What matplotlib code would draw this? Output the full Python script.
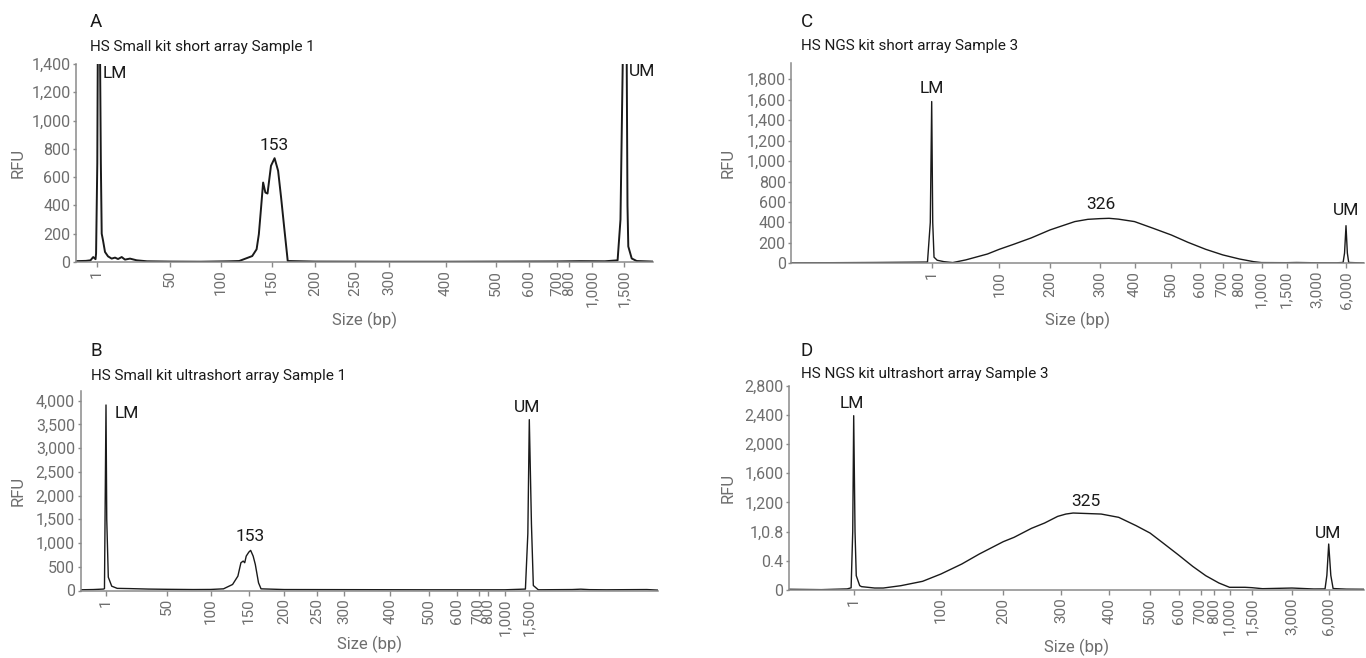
import numpy as np
import matplotlib
matplotlib.use('Agg')
import matplotlib.pyplot as plt

plt.rcParams['font.family'] = ['Roboto', 'DejaVu Sans']

W, H = 1366, 658
GREY = '#6e6e6e'
INK = '#1a1a1a'

# size ladder ticks (bp)
ticks_small = [1, 50, 100, 150, 200, 250, 300, 400, 500, 600, 700, 800, 1000, 1500]
ticks_ngs = [1, 100, 200, 300, 400, 500, 600, 700, 800, 1000, 1500, 3000, 6000]

# A: HS Small kit, short array (markers run off scale)
size_a = [0, 0.47, 0.69, 0.82, 0.93, 0.956, 1.2, 1.5, 2.3, 3.1, 3.6, 4.18, 5.06, 6.41,
          8.44, 10.9, 13.2, 15.2, 17.7, 19.9, 23.3, 27.8, 34.8, 50, 80, 108, 117.8,
          130.6, 134.9, 137.1, 139.3, 141.3, 143.5, 145.6, 149, 153, 157.1, 160.6,
          164.2, 168.3, 200, 300, 400, 700, 900, 1200, 1400, 1445, 1480, 1510, 1547,
          1560, 1574, 1633, 1719, 2000]
rfu_a = [6, 8, 12, 35, 20, 60, 700, 1400, 4000, 1400, 700, 200, 153, 71,
         40, 24, 31, 21, 35, 17, 24, 12, 5, 3, 2, 5, 7,
         42, 90, 196, 385, 562, 491, 484, 680, 734, 645, 455,
         243, 7, 3, 2, 2, 4, 6, 5, 12, 300, 1400, 4000, 1400,
         400, 110, 25, 7, 3]

# B: HS Small kit, ultrashort array
size_b = [0, 0.5, 0.9, 0.94, 1.0, 1.6, 2.85, 5.6, 10, 20, 35, 50, 80, 100, 117, 129,
          136, 140, 143, 145, 147, 150.5, 153, 156.5, 159.5, 164, 167.5, 200, 300,
          500, 1000, 1420, 1470, 1500, 1525, 1547, 1605, 2000, 2100, 2200, 2400,
          2870, 3000]
rfu_b = [15, 20, 30, 40, 3909, 1500, 281, 91, 45, 40, 30, 25, 20, 22, 35, 127,
         303, 585, 620, 585, 725, 810, 845, 725, 550, 162, 35, 20, 18,
         15, 15, 30, 1200, 3600, 1400, 105, 15, 20, 28, 18, 15,
         20, 8]

# C: HS NGS kit, short array
size_c = [0, 0.3, 0.6, 0.97, 0.99, 1, 2.5, 4.4, 9, 18.9, 31.8, 50.8, 82.7, 100,
          128.5, 163, 200, 223.5, 249.6, 275.5, 300, 326, 353, 400, 451, 500, 559,
          626, 700, 800, 928, 1000, 1500, 2000, 3000, 5000, 5700, 5850, 6000, 6150,
          6300, 8000]
rfu_c = [5, 6, 8, 12, 400, 1582, 400, 60, 30, 16, 7, 33, 91, 137,
         186, 248, 326, 365, 408, 430, 437, 440, 432, 408, 342, 277, 205,
         137, 82, 42, 16, 7, 6, 8, 5, 5, 8, 100, 368, 100,
         8, 3]

# D: HS NGS kit, ultrashort array
size_d = [0, 0.5, 0.9, 0.96, 0.985, 1, 2.5, 3.9, 7.8, 9.9, 24.8, 34.6, 54.5, 79.2,
          100, 133.5, 161.6, 200, 218.8, 248.8, 271.5, 294.1, 310, 325, 383.5,
          423.4, 465.9, 500, 542.8, 600, 664.5, 739, 863, 1000, 1348, 1500, 1899,
          3000, 4784, 5700, 5850, 6000, 6120, 6250, 7000, 8000]
rfu_d = [10, 5, 15, 30, 800, 2389, 800, 196, 60, 46, 27, 27, 59, 119,
         219, 356, 493, 662, 722, 845, 918, 1009, 1041, 1055, 1041,
         996, 882, 781, 653, 480, 324, 196, 96, 37, 37, 32, 18,
         27, 14, 15, 200, 630, 200, 20, 12, 10]

yticks_d = [0, 400, 800, 1200, 1600, 2000, 2400, 2800]
yticklabels_d = ['0', '0.4', '1,0.8', '1,200', '1,600', '2,000', '2,400', '2,800']

panels = [
    dict(letter='A', title='HS Small kit short array Sample 1', x=size_a, y=rfu_a,
         ticks=ticks_small, knots=[0] + ticks_small + [2000],
         px=[76, 97, 169.5, 221, 272, 315, 355, 389, 445.5, 496, 529, 557, 569, 592, 624, 653],
         top=64, bottom=262, ymax=1400, yticks=list(range(0, 1401, 200)), yticklabels=None,
         lw=1.4, title_x=90, title_y=(22, 47), ylab_x=18, xlab_y=320,
         notes=[('LM', 3.1, 1400, 'left', 3, -9), ('UM', 1547, 1400, 'left', 2, -7),
                ('153', 153, 734, 'center', 0, 13)]),
    dict(letter='B', title='HS Small kit ultrashort array Sample 1', x=size_b, y=rfu_b,
         ticks=ticks_small, knots=[0] + ticks_small + [3000],
         px=[80.5, 106, 167, 210.6, 248.5, 284.3, 316.9, 344.3, 390.1, 429.3, 456.7, 478.5, 488.1, 505, 529.3, 658],
         top=390.7, bottom=590.5, ymax=4210, yticks=list(range(0, 4001, 500)), yticklabels=None,
         lw=1.0, title_x=91, title_y=(351, 376), ylab_x=18, xlab_y=644,
         notes=[('LM', 1, 3909, 'left', 9, -9), ('UM', 1500, 3600, 'center', -2, 12),
                ('153', 153, 845, 'center', 0, 14)]),
    dict(letter='C', title='HS NGS kit short array Sample 3', x=size_c, y=rfu_c,
         ticks=ticks_ngs, knots=[0] + ticks_ngs + [8000],
         px=[791.3, 931.7, 999.3, 1049.9, 1100.1, 1134.5, 1171.3, 1199.6, 1222.8, 1239.5, 1261.5, 1286.5, 1317, 1346, 1364],
         top=62.7, bottom=263.3, ymax=1962, yticks=list(range(0, 1801, 200)), yticklabels=None,
         lw=1.0, title_x=801, title_y=(22, 46), ylab_x=728, xlab_y=320,
         notes=[('LM', 1, 1582, 'center', 0, 13), ('326', 326, 440, 'center', -8, 14),
                ('UM', 6000, 368, 'center', 0, 15)]),
    dict(letter='D', title='HS NGS kit ultrashort array Sample 3', x=size_d, y=rfu_d,
         ticks=ticks_ngs, knots=[0] + ticks_ngs + [8000],
         px=[789, 853.7, 940.9, 1003.2, 1061.1, 1109.1, 1150.0, 1178.5, 1200.5, 1214, 1229.5, 1251.8, 1292, 1328.7, 1364],
         top=385.7, bottom=590, ymax=2800, yticks=yticks_d, yticklabels=yticklabels_d,
         lw=1.0, title_x=801, title_y=(351, 374), ylab_x=728, xlab_y=647,
         notes=[('LM', 1, 2389, 'center', -1.5, 12), ('325', 325, 1055, 'center', 13, 12),
                ('UM', 6000, 630, 'center', -1, 11)]),
]

fig = plt.figure(figsize=(W / 100, H / 100), dpi=100)


def fmt(v):
    return f'{v:,}'


for p in panels:
    px = np.array(p['px'], float)
    left, right = px[0], px[-1]
    ax = fig.add_axes([left / W, 1 - p['bottom'] / H, (right - left) / W, (p['bottom'] - p['top']) / H])

    # piecewise size axis: each ladder tick sits at its own position
    frac = (px - left) / (right - left)
    kb = np.array(p['knots'], float)
    ax.set_xscale('function', functions=(lambda v, kb=kb, fr=frac: np.interp(v, kb, fr),
                                         lambda v, kb=kb, fr=frac: np.interp(v, fr, kb)))
    ax.set_xlim(kb[0], kb[-1])
    ax.set_ylim(0, p['ymax'])

    ax.plot(p['x'], p['y'], color=INK, lw=p['lw'], solid_joinstyle='round')

    ax.set_xticks(p['ticks'])
    ax.set_xticklabels([fmt(t) for t in p['ticks']], rotation=90)
    ax.set_yticks(p['yticks'])
    ax.set_yticklabels(p['yticklabels'] or [fmt(t) for t in p['yticks']])
    ax.minorticks_off()

    for side in ('top', 'right'):
        ax.spines[side].set_visible(False)
    for side in ('left', 'bottom'):
        ax.spines[side].set_color('#8a8a8a')
        ax.spines[side].set_linewidth(1.1)
    ax.tick_params(axis='x', length=3.5, width=1, color='#8a8a8a', labelcolor=GREY,
                   labelsize=11, pad=2)
    ax.tick_params(axis='y', length=2.5, width=1, color='#8a8a8a', labelcolor=GREY,
                   labelsize=11.5, pad=1.5)

    # axis titles
    fig.text(p['ylab_x'] / W, 1 - (p['top'] + p['bottom']) / 2 / H, 'RFU', rotation=90,
             ha='center', va='center', color=GREY, fontsize=12)
    fig.text((left + right) / 2 / W, 1 - p['xlab_y'] / H, 'Size (bp)',
             ha='center', va='center', color=GREY, fontsize=12)

    # panel letter and sample title
    fig.text(p['title_x'] / W, 1 - p['title_y'][0] / H, p['letter'],
             ha='left', va='center', color=INK, fontsize=13.5)
    fig.text(p['title_x'] / W, 1 - p['title_y'][1] / H, p['title'],
             ha='left', va='center', color=INK, fontsize=11)

    # peak callouts
    for text, xv, yv, ha, dx, dy in p['notes']:
        ax.annotate(text, xy=(xv, min(yv, p['ymax'])), xytext=(dx * 0.72, dy * 0.72),
                    textcoords='offset points', ha=ha, va='center', color=INK,
                    fontsize=12.5, annotation_clip=False)

fig.savefig('out.png', dpi=100)
